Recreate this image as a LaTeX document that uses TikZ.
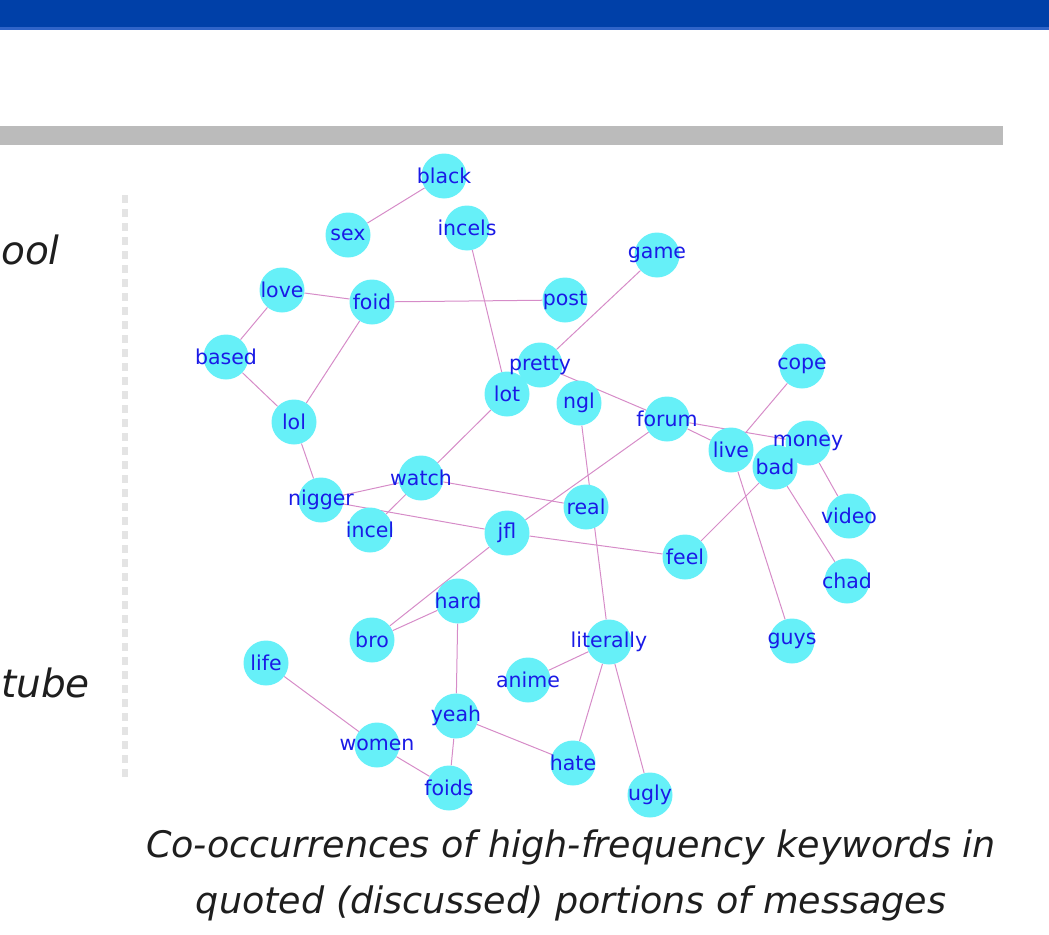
\documentclass[tikz,border=0pt]{standalone}
\usepackage{fontspec}
\setmainfont{DejaVu Sans}
\newfontfamily\nodefont{DejaVu Sans}
\usetikzlibrary{backgrounds}
\definecolor{barblue}{RGB}{0,64,168}
\definecolor{barline}{RGB}{48,100,200}
\definecolor{bargray}{RGB}{187,187,187}
\definecolor{dashgray}{RGB}{228,228,228}
\definecolor{nodecyan}{RGB}{102,240,248}
\definecolor{wordblue}{RGB}{26,26,230}
\definecolor{edgepink}{RGB}{214,140,200}
\definecolor{captext}{RGB}{30,30,30}

\begin{document}
\begin{tikzpicture}[x=1pt,y=-1pt,
    dot/.style={circle,fill=nodecyan,minimum size=45pt,inner sep=0pt},
    word/.style={font=\nodefont\fontsize{20.5}{21}\selectfont,text=wordblue,inner sep=0pt},
    link/.style={draw=edgepink,line width=1pt},
    side/.style={font=\itshape\fontsize{39}{42}\selectfont,text=captext,inner sep=0pt},
    caption/.style={font=\itshape\fontsize{36.5}{40}\selectfont,text=captext,inner sep=0pt}]
        \useasboundingbox (0,0) rectangle (1049,934);
        % Draw bars
        \fill[barblue] (0,0) rectangle (1049,27);
        \fill[barline] (0,27) rectangle (1049,30);
        \fill[bargray] (0,126) rectangle (1003,145);
        \draw[dashgray,line width=6pt,dash pattern=on 8pt off 6pt] (125,195) -- (125,780);
        % Draw nodes
        \foreach \n/\x/\y in {black/444/176, sex/348/235, incels/467/228, game/657/255,
            love/282/290, foid/372/302, post/565/300, based/226/357, pretty/540/365,
            cope/802/366, lot/507/394, ngl/579/403, lol/294/422, forum/667/419,
            live/731/450, money/808/443, bad/775/467, watch/421/478, nigger/321/500,
            real/586/507, video/849/516, incel/370/530, jfl/507/533, feel/685/557,
            chad/847/581, hard/458/601, bro/372/640, literally/609/642, guys/792/641,
            life/266/663, anime/528/680, yeah/456/716, women/377/745, hate/573/763,
            foids/449/788, ugly/650/795}
          \node[dot] (\n) at (\x,\y) {};
        % Draw edges
        \begin{scope}[on background layer]
          \foreach \a/\b in {black/sex, incels/lot, love/foid, foid/post, love/based,
              based/lol, foid/lol, pretty/game, pretty/forum, lot/incel, lot/pretty,
              forum/live, forum/money, live/cope, live/guys, money/video, bad/chad,
              bad/feel, ngl/literally, forum/jfl, watch/real, watch/nigger, nigger/lol,
              nigger/jfl, jfl/feel, jfl/bro, hard/bro, hard/yeah, literally/anime,
              literally/hate, literally/ugly, yeah/hate, yeah/foids, life/women,
              women/foids}
            \draw[link] (\a) -- (\b);
        \end{scope}
        % Draw labels
        \foreach \n in {black, sex, incels, game, love, foid, post, based, pretty, cope,
            lot, ngl, lol, forum, live, money, bad, watch, nigger, real, video, incel,
            jfl, feel, chad, hard, bro, literally, guys, life, anime, yeah, women, hate,
            foids, ugly}
          \node[word] at (\n) {\n};
        % Side text and caption
        \node[side,anchor=west] (ool) at (1,250) {ool};
        \node[side,anchor=west] (tube) at (1,683) {tube};
        \node[caption] (cap1) at (571,847) {Co-occurrences of high-frequency keywords in};
        \node[caption] (cap2) at (571,903) {quoted (discussed) portions of messages};
      \end{tikzpicture}
\end{document}
